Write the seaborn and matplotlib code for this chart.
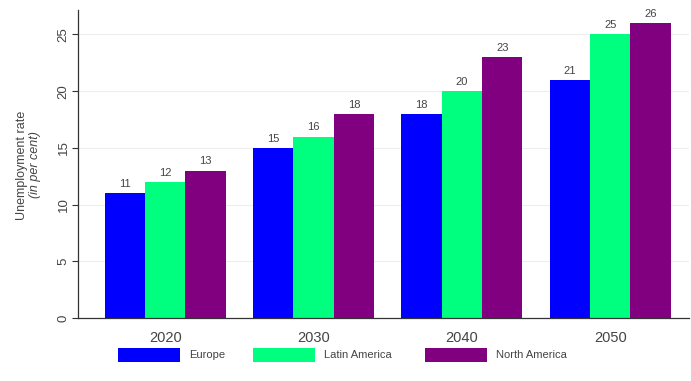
import matplotlib
matplotlib.use("Agg")
import matplotlib.pyplot as plt
import seaborn as sns
import pandas as pd
from matplotlib.patches import Rectangle

years = ["2020", "2030", "2040", "2050"]
regions = ["Europe", "Latin America", "North America"]
europe = [11, 15, 18, 21]
latin_america = [12, 16, 20, 25]
north_america = [13, 18, 23, 26]
colors = ["#0000FF", "#00FF7F", "#800080"]

df = pd.DataFrame({
    "year": years * 3,
    "region": [regions[0]] * 4 + [regions[1]] * 4 + [regions[2]] * 4,
    "value": europe + latin_america + north_america,
})

sns.set_theme(style="white")
plt.rcParams["font.family"] = ["Liberation Sans", "DejaVu Sans"]

W, H = 691, 381
fig = plt.figure(figsize=(6.91, 3.81), dpi=100)
ax = fig.add_axes([0.113, 0.165, 0.884, 0.81])

sns.barplot(data=df, x="year", y="value", hue="region", palette=colors,
            width=0.815, gap=0, saturation=1, ax=ax, legend=False,
            edgecolor="none", linewidth=0)

for cont in ax.containers:
    ax.bar_label(cont, fmt="%d", padding=3, fontsize=8, color="#444444")

ax.set_ylim(0, 27.2)
ax.set_xlim(-0.587, 3.53)
ax.set_yticks([0, 5, 10, 15, 20, 25])
ax.grid(axis="y", color="#eeeeee", linewidth=0.8)
ax.set_axisbelow(True)
for s in ["top", "right"]:
    ax.spines[s].set_visible(False)
for s in ["left", "bottom"]:
    ax.spines[s].set_color("#333333")
    ax.spines[s].set_linewidth(0.9)
ax.tick_params(axis="y", left=True, length=4, width=0.8, color="#333333",
               labelsize=9.5, labelcolor="#444444", pad=2)
plt.setp(ax.get_yticklabels(), rotation=90, va="center")
ax.tick_params(axis="x", bottom=False, labelsize=10.5, labelcolor="#444444", pad=3)
ax.set_xlabel("")
ax.set_ylabel("")

fig.text(22 / W, 1 - 165 / H, "Unemployment rate", rotation=90,
         ha="center", va="center", fontsize=9, color="#444444")
fig.text(35 / W, 1 - 165 / H, "(in per cent)", rotation=90,
         ha="center", va="center", fontsize=9, color="#444444", style="italic")

# legend drawn as figure patches/text
leg_x = [118, 253, 425]
rect_w, rect_h, rect_y = 62, 14, 348
for x0, c, r in zip(leg_x, colors, regions):
    fig.add_artist(Rectangle((x0 / W, 1 - (rect_y + rect_h) / H), rect_w / W, rect_h / H,
                             transform=fig.transFigure, facecolor=c, edgecolor="none"))
    fig.text((x0 + rect_w + 9) / W, 1 - (rect_y + rect_h / 2) / H, r,
             ha="left", va="center", fontsize=8, color="#444444")

fig.savefig("out.png", dpi=100)
